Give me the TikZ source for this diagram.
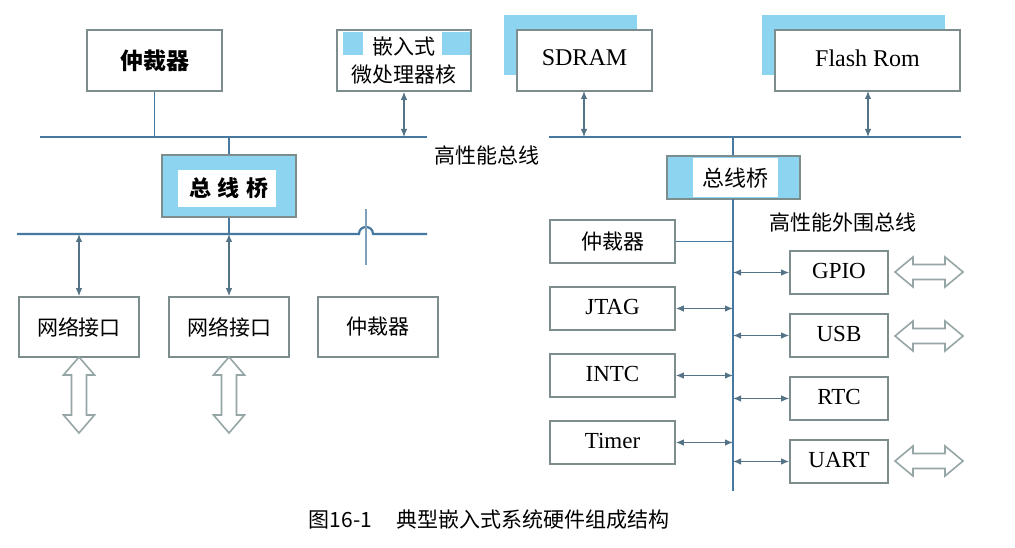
\documentclass[tikz,border=0pt]{standalone}
\usepackage{fontspec}
\setmainfont{Liberation Serif}
\newfontfamily\cjk{Noto Sans CJK SC}
\usetikzlibrary{arrows.meta}
\definecolor{lblue}{RGB}{140,212,240}
\definecolor{busc}{RGB}{70,120,160}
\definecolor{boxc}{RGB}{125,140,140}
\definecolor{arrc}{RGB}{85,115,135}
\definecolor{hollc}{RGB}{150,165,165}
\begin{document}
\begin{tikzpicture}[x=1pt,y=-1pt,
  box/.style={draw=boxc,line width=1.6pt,fill=white,inner sep=0pt,align=center},
  cnf/.style={font=\cjk\fontsize{21}{28}\selectfont},
  cnb/.style={font=\cjk\bfseries\fontsize{22}{26}\selectfont},
  lat/.style={font=\fontsize{23}{26}\selectfont},
  latbig/.style={font=\fontsize{24}{27}\selectfont},
  bus/.style={draw=busc,line width=2.2pt},
  vbus/.style={draw=busc,line width=2.8pt},
  link/.style={draw=busc,line width=1.4pt},
  biarrow/.style={draw=arrc,line width=1.2pt,{Latex[length=8pt,width=6.5pt]}-{Latex[length=8pt,width=6.5pt]}},
  hollow/.style={draw=hollc,line width=1.6pt,fill=white,line join=miter},
  vhollow/.pic={\draw[hollow] (0,-38) -- (15.5,-20) -- (7.5,-20) -- (7.5,20) -- (15.5,20) -- (0,38) -- (-15.5,20) -- (-7.5,20) -- (-7.5,-20) -- (-15.5,-20) -- cycle;},
  hhollow/.pic={\draw[hollow] (-34,0) -- (-16,-15) -- (-16,-7.5) -- (16,-7.5) -- (16,-15) -- (34,0) -- (16,15) -- (16,7.5) -- (-16,7.5) -- (-16,15) -- cycle;}
]
\useasboundingbox[fill=white] (0,0) rectangle (1015,548);

% ---------- top row ----------
\node[box,font=\cjk\bfseries\fontsize{23}{26}\selectfont,minimum width=135,minimum height=61] (arbA) at (154.5,60.5) {仲裁器};

\node[box,minimum width=134,minimum height=61] (cpu) at (404,60.5) {};
\fill[lblue] (343,32) rectangle (363,55);
\fill[lblue] (442,32) rectangle (470,55);
\node[cnf,align=center,inner sep=0pt] (cputext) at (404,61) {嵌入式\\微处理器核};

\fill[lblue] (504,15) rectangle (637,75);
\node[box,latbig,minimum width=135,minimum height=61] (sdram) at (584.5,60.5) {\raisebox{5pt}{SDRAM}};

\fill[lblue] (762,15) rectangle (945,75);
\node[box,latbig,minimum width=185,minimum height=61] (flash) at (867.5,60.5) {\raisebox{5pt}{Flash Rom}};

% ---------- high performance bus ----------
\coordinate (hbL1) at (40,137);
\coordinate (hbR1) at (427,137);
\coordinate (hbL2) at (549,137);
\coordinate (hbR2) at (961,137);
\draw[bus] (hbL1) -- (hbR1);
\draw[bus] (hbL2) -- (hbR2);
\node[cnf] (hblabel) at (487,155) {高性能总线};

\draw[link] (arbA.south) -- (arbA.south |- hbL1);
\draw[biarrow] (cpu.south) -- (cpu.south |- hbL1);
\draw[biarrow] (584,91) coordinate (sdS) -- (sdS |- hbL2);
\draw[biarrow] (868,91) coordinate (flS) -- (flS |- hbL2);

% ---------- left bridge ----------
\node[box,fill=lblue,minimum width=134,minimum height=62] (bridgeL) at (229,186) {};
\fill[white] (178,170) rectangle (276,207);
\node[cnb] (bridgeLtext) at (229,188) {总\hspace{7pt}线\hspace{7pt}桥};
\draw[link] (bridgeL.north |- hbL1) -- (bridgeL.north);

% ---------- lower left bus ----------
\coordinate (lbL) at (17,234);
\coordinate (lbR) at (427,234);
\draw[bus] (lbL) -- (359,234) .. controls (359,224.7) and (373,224.7) .. (373,234) -- (lbR);
\coordinate (hopT) at (366,209);
\coordinate (hopB) at (366,265);
\draw[draw=busc!70,line width=1.2pt] (hopT) -- (hopB);
\draw[link] (bridgeL.south) -- (bridgeL.south |- lbL);

\node[box,cnf,minimum width=120,minimum height=60] (netA) at (79,327) {网络接口};
\node[box,cnf,minimum width=120,minimum height=60] (netB) at (229,327) {网络接口};
\node[box,cnf,minimum width=120,minimum height=60] (arbB) at (378,327) {仲裁器};
\draw[biarrow] (netA.north |- lbL) -- (netA.north);
\draw[biarrow] (netB.north |- lbL) -- (netB.north);
\pic at (79,395) {vhollow};
\pic at (229,395) {vhollow};

% ---------- right bridge ----------
\node[box,fill=lblue,minimum width=133,minimum height=43] (bridgeR) at (733.5,177.5) {};
\fill[white] (693,158) rectangle (778,197);
\node[font=\cjk\fontsize{22}{26}\selectfont] (bridgeRtext) at (735,178) {总线桥};
\draw[link] (733,137) coordinate (brT) -- (brT |- bridgeR.north);
\coordinate (pbB) at (733,491);
\draw[vbus] (733,199) coordinate (pbT) -- (pbB);
\node[cnf] (pblabel) at (843,222) {高性能外围总线};

% ---------- peripheral boxes ----------
\node[box,cnf,minimum width=125,minimum height=43] (arbC) at (612.5,241.5) {仲裁器};
\node[box,lat,minimum width=125,minimum height=43] (jtag) at (612.5,308.5) {\raisebox{3pt}{JTAG}};
\node[box,lat,minimum width=125,minimum height=43] (intc) at (612.5,375.5) {\raisebox{3pt}{INTC}};
\node[box,lat,minimum width=125,minimum height=43] (timer) at (612.5,442.5) {\raisebox{3pt}{Timer}};

\node[box,lat,minimum width=98,minimum height=43] (gpio) at (839,272.5) {\raisebox{4pt}{GPIO}};
\node[box,lat,minimum width=98,minimum height=43] (usb) at (839,335.5) {\raisebox{4pt}{USB}};
\node[box,lat,minimum width=98,minimum height=43] (rtc) at (839,398.5) {\raisebox{4pt}{RTC}};
\node[box,lat,minimum width=98,minimum height=43] (uart) at (839,461.5) {\raisebox{4pt}{UART}};

\draw[link] (arbC.east) -- (arbC.east -| pbB);
\draw[biarrow] (jtag.east) -- (jtag.east -| pbB);
\draw[biarrow] (intc.east) -- (intc.east -| pbB);
\draw[biarrow] (timer.east) -- (timer.east -| pbB);
\draw[biarrow] (gpio.west -| pbB) -- (gpio.west);
\draw[biarrow] (usb.west -| pbB) -- (usb.west);
\draw[biarrow] (rtc.west -| pbB) -- (rtc.west);
\draw[biarrow] (uart.west -| pbB) -- (uart.west);

\pic at (929,272) {hhollow};
\pic at (929,336) {hhollow};
\pic at (929,461) {hhollow};

% ---------- caption ----------
\node[font=\cjk\fontsize{21}{25}\selectfont] (caption) at (489,520) {图16-1\hspace{24pt}典型嵌入式系统硬件组成结构};
\end{tikzpicture}
\end{document}
